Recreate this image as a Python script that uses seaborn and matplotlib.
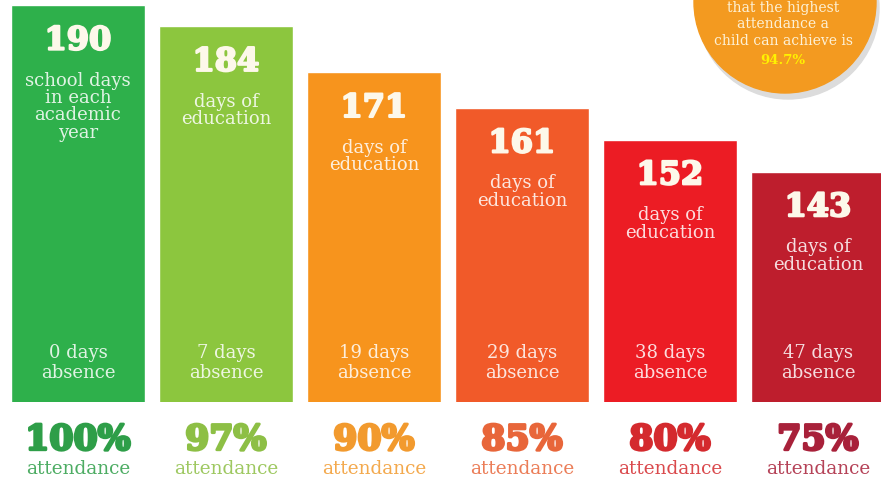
import seaborn as sns
import matplotlib.pyplot as plt
import matplotlib.patheffects as pe
from matplotlib.patches import Ellipse
import pandas as pd

# chart data
days_of_education = [190, 184, 171, 161, 152, 143]
descriptions = ["school days\nin each\nacademic\nyear", "days of\neducation", "days of\neducation",
                "days of\neducation", "days of\neducation", "days of\neducation"]
absence_days = [0, 7, 19, 29, 38, 47]
attendance_pct = [100, 97, 90, 85, 80, 75]
bar_colors = ["#2eb04b", "#8cc63e", "#f7941d", "#f15a29", "#ec1c24", "#be1e2d"]
pct_colors = ["#2e9e48", "#8dbf45", "#f29a2e", "#e8663a", "#d42a2e", "#a8213a"]
note_lines = ["that the highest", "attendance a", "child can achieve is"]
note_highlight = "94.7%"

df = pd.DataFrame({"label": [f"{p}%" for p in attendance_pct], "days": days_of_education})

sns.set_style("white")
plt.rcParams["font.family"] = ["DejaVu Serif"]

fig = plt.figure(figsize=(8.81, 4.84), dpi=100)
ax = fig.add_axes([0, 82 / 484, 1, 1 - 82 / 484])

sns.barplot(data=df, x="label", y="days", hue="label", palette=bar_colors,
            legend=False, width=0.9, saturation=1, ax=ax)
ax.set_xlim(-0.527, 5.426)
ax.set_ylim(78, 191.4)
ax.axis("off")


def heavy(color, w=1.6):
    return [pe.withStroke(linewidth=w, foreground=color)]


tr = ax.get_xaxis_transform()
for i, v in enumerate(days_of_education):
    ax.annotate(str(v), xy=(i, v), xytext=(0, -26), textcoords="offset points",
                ha="center", va="center", fontsize=23, fontweight="bold", color="#fdf8ea",
                path_effects=heavy("#fdf8ea"))
    ax.annotate(descriptions[i], xy=(i, v), xytext=(0, -48), textcoords="offset points",
                ha="center", va="top", fontsize=13, color="white", alpha=0.85, linespacing=0.95)
    ax.text(i, 0.122, f"{absence_days[i]} days", transform=tr, ha="center", va="center",
            fontsize=13, color="white", alpha=0.85)
    ax.text(i, 0.072, "absence", transform=tr, ha="center", va="center",
            fontsize=13, color="white", alpha=0.85)
    ax.text(i, -0.094, f"{attendance_pct[i]}%", transform=tr, ha="center", va="center",
            fontsize=25, fontweight="bold", color=pct_colors[i], clip_on=False,
            path_effects=heavy(pct_colors[i], 2))
    ax.text(i, -0.166, "attendance", transform=tr, ha="center", va="center",
            fontsize=13.3, color=pct_colors[i], alpha=0.85, clip_on=False)

# orange note bubble in the top-right corner
W, H = 881, 484
fig.patches.append(Ellipse((788 / W, (H - 8) / H), 2 * 91 / W, 2 * 91 / H,
                           transform=fig.transFigure, color="#dcdcdc", zorder=5))
fig.patches.append(Ellipse((785 / W, (H - 2) / H), 2 * 91 / W, 2 * 91 / H,
                           transform=fig.transFigure, color="#f39a20", zorder=6))
for k, line in enumerate(note_lines):
    fig.text(783 / W, (H - 8 - 16.5 * k) / H, line, ha="center", va="center",
             fontsize=10, color="#fdf1d6", zorder=7)
fig.text(783 / W, (H - 60) / H, note_highlight, ha="center", va="center",
         fontsize=9.5, fontweight="bold", color="#fff200", zorder=7)

fig.savefig("out.png", dpi=100)
